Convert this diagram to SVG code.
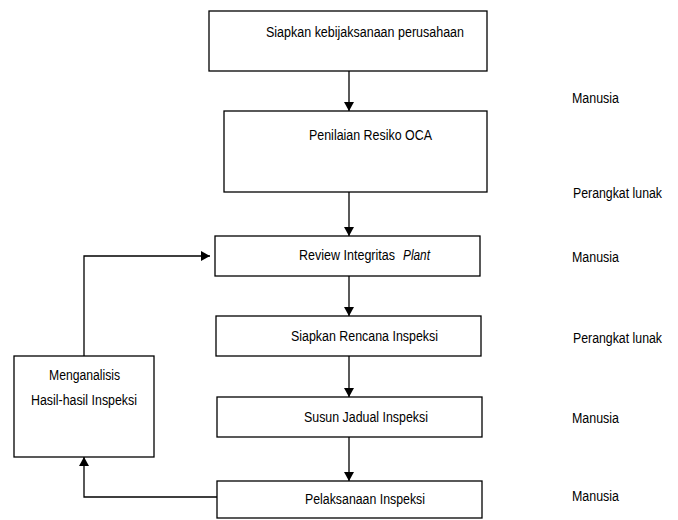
<svg xmlns="http://www.w3.org/2000/svg" width="678" height="520" viewBox="0 0 678 520">
<defs>
<marker id="ah" markerWidth="9" markerHeight="10" refX="9" refY="5" orient="auto" markerUnits="userSpaceOnUse">
<path d="M0,0 L9,5 L0,10 Z" fill="#000"/>
</marker>
<style>
rect{fill:#fff;stroke:#000;stroke-width:1.3}
text{font-family:"Liberation Sans",Arial,sans-serif;font-size:14px;fill:#000}
.c line,.c path{stroke:#000;stroke-width:1.3;fill:none}
</style>
</defs>
<rect x="0" y="0" width="678" height="520" style="stroke:none"/>
<g id="n1"><rect x="209" y="11" width="278" height="60"/><text x="266" y="37" textLength="198" lengthAdjust="spacingAndGlyphs">Siapkan kebijaksanaan perusahaan</text></g>
<g id="n2"><rect x="224" y="111" width="263" height="81"/><text x="309" y="140" textLength="123" lengthAdjust="spacingAndGlyphs">Penilaian Resiko OCA</text></g>
<g id="n3"><rect x="215" y="236" width="265" height="40"/><text transform="translate(299,260) scale(1,1.16)" x="0" y="0" style="font-size:12px" textLength="96" lengthAdjust="spacingAndGlyphs">Review Integritas</text><text x="403" y="260" font-style="italic" textLength="27" lengthAdjust="spacingAndGlyphs">Plant</text></g>
<g id="n4"><rect x="216" y="316" width="265" height="40"/><text x="291" y="341" textLength="147" lengthAdjust="spacingAndGlyphs">Siapkan Rencana Inspeksi</text></g>
<g id="n5"><rect x="217" y="397" width="265" height="40"/><text x="304" y="422" textLength="124" lengthAdjust="spacingAndGlyphs">Susun Jadual Inspeksi</text></g>
<g id="n6"><rect x="217" y="481" width="265" height="37"/><text x="305" y="504" textLength="120" lengthAdjust="spacingAndGlyphs">Pelaksanaan Inspeksi</text></g>
<g id="n7"><rect x="14" y="356" width="140" height="101"/><text x="49" y="380" textLength="71" lengthAdjust="spacingAndGlyphs">Menganalisis</text><text x="31" y="405" textLength="106" lengthAdjust="spacingAndGlyphs">Hasil-hasil Inspeksi</text></g>
<g id="labels">
<text x="572" y="103" textLength="47" lengthAdjust="spacingAndGlyphs">Manusia</text>
<text x="573" y="198" textLength="89" lengthAdjust="spacingAndGlyphs">Perangkat lunak</text>
<text x="572" y="262" textLength="47" lengthAdjust="spacingAndGlyphs">Manusia</text>
<text x="573" y="343" textLength="89" lengthAdjust="spacingAndGlyphs">Perangkat lunak</text>
<text x="572" y="423" textLength="47" lengthAdjust="spacingAndGlyphs">Manusia</text>
<text x="572" y="501" textLength="47" lengthAdjust="spacingAndGlyphs">Manusia</text>
</g>
<g id="connectors" class="c">
<line x1="349" y1="71" x2="349" y2="111" marker-end="url(#ah)"/>
<line x1="349" y1="192" x2="349" y2="236" marker-end="url(#ah)"/>
<line x1="349" y1="276" x2="349" y2="316" marker-end="url(#ah)"/>
<line x1="349" y1="356" x2="349" y2="397" marker-end="url(#ah)"/>
<line x1="349" y1="437" x2="349" y2="481" marker-end="url(#ah)"/>
<path d="M84,356 L84,256 L210,256" marker-end="url(#ah)"/>
<path d="M217,497 L84,497 L84,457" marker-end="url(#ah)"/>
</g>
</svg>
